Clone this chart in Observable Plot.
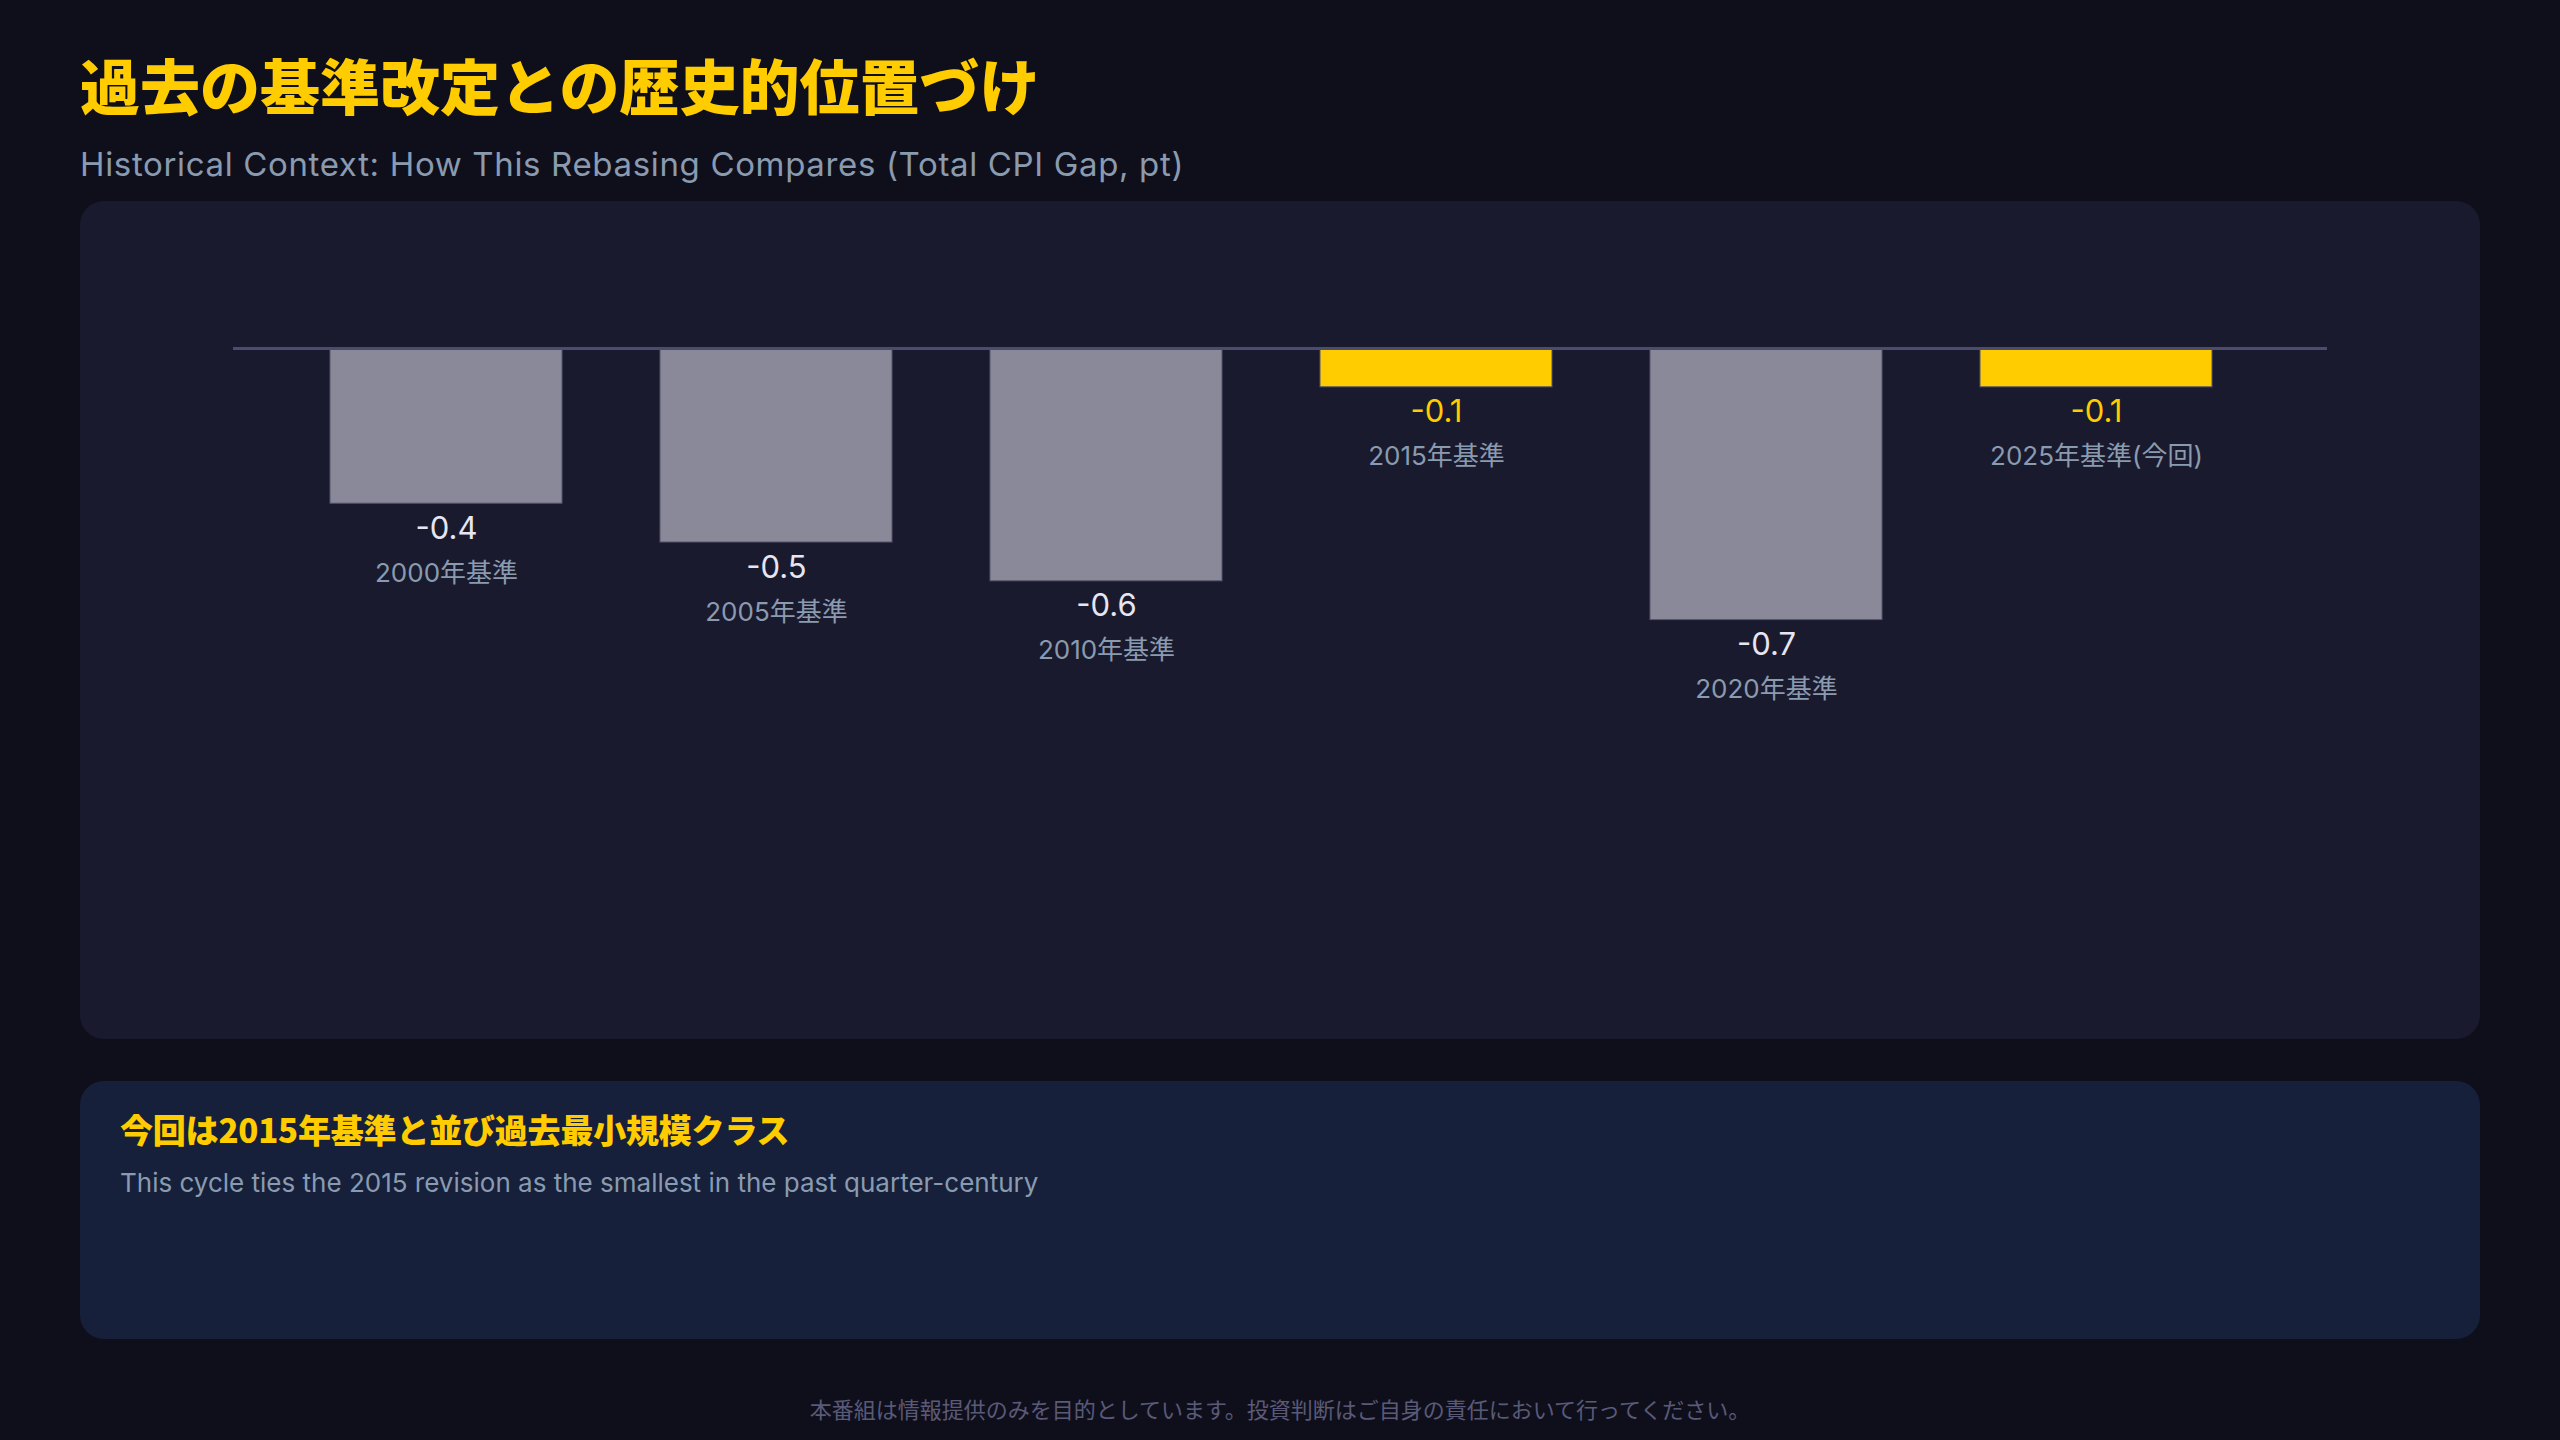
<!DOCTYPE html>
<html lang="ja">
<head>
<meta charset="utf-8">
<script src="https://cdn.jsdelivr.net/npm/d3@7"></script>
<script src="https://cdn.jsdelivr.net/npm/@observablehq/plot@0.6"></script>
<style>
  html, body { margin: 0; padding: 0; }
  body { width: 2560px; height: 1440px; background: #0f0f1c; position: relative; overflow: hidden;
         font-family: Inter, "Noto Sans CJK JP", sans-serif; }
  #title { position: absolute; left: 80px; top: 54px; margin: 0; font-size: 60px; line-height: 1; font-weight: 900;
           color: #FFCC00; font-family: "Noto Sans CJK JP", sans-serif; }
  #subtitle { position: absolute; left: 80px; top: 148px; font-size: 33px; line-height: 1; color: #8a9bb0; letter-spacing: 0.65px; }
  #panel { position: absolute; left: 80px; top: 201px; width: 2400px; height: 838px; border-radius: 24px; background: #1a1a2e; overflow: hidden; }
  #callout { position: absolute; left: 80px; top: 1081px; width: 2400px; height: 258px; border-radius: 24px; background: #16203a; }
  #callout-title { position: absolute; left: 40px; top: 32px; font-size: 33px; line-height: 1; font-weight: 900; color: #FFCC00;
                   font-family: "Noto Sans CJK JP", sans-serif; letter-spacing: -0.2px; }
  #callout-text { position: absolute; left: 40px; top: 89px; font-size: 26px; line-height: 1; color: #8a9bb0; }
  #footer { position: absolute; left: 0; width: 2560px; top: 1397px; text-align: center; font-size: 22px; line-height: 1;
            color: #5a5a78; font-family: "Noto Sans CJK JP", sans-serif; }
</style>
</head>
<body>
<h1 id="title">過去の基準改定との歴史的位置づけ</h1>
<div id="subtitle">Historical Context: How This Rebasing Compares (Total CPI Gap, pt)</div>
<div id="panel"></div>
<div id="callout">
  <div id="callout-title">今回は2015年基準と並び過去最小規模クラス</div>
  <div id="callout-text">This cycle ties the 2015 revision as the smallest in the past quarter-century</div>
</div>
<div id="footer">本番組は情報提供のみを目的としています。投資判断はご自身の責任において行ってください。</div>
<script>
const categories = ["2000年基準", "2005年基準", "2010年基準", "2015年基準", "2020年基準", "2025年基準(今回)"];
const gaps = [-0.4, -0.5, -0.6, -0.1, -0.7, -0.1];
const highlighted = [false, false, false, true, false, true];

const data = categories.map((c, i) => ({category: c, gap: gaps[i], hl: highlighted[i]}));

const barColor = d => d.hl ? "#FFCC00" : "#8a8999";
const valueColor = d => d.hl ? "#FFCC00" : "#e6e6f2";

const chart = Plot.plot({
  width: 2400,
  height: 838,
  marginLeft: 153,
  marginRight: 153,
  marginTop: 147,
  marginBottom: 109,
  style: {background: "transparent", fontFamily: "Inter, 'Noto Sans CJK JP', sans-serif"},
  x: {domain: categories, paddingInner: 0.296, paddingOuter: 0.32, align: 0.46, axis: null},
  y: {domain: [-1.5, 0], axis: null},
  marks: [
    Plot.barY(data, {x: "category", y: "gap", fill: barColor, stroke: "#55556e", strokeWidth: 1}),
    Plot.ruleY([0], {stroke: "#4c4c6e", strokeWidth: 3}),
    Plot.text(data, {x: "category", y: "gap", text: d => d.gap.toFixed(1), fill: valueColor,
      fontSize: 31, lineAnchor: "bottom", dy: 35, textAnchor: "middle"}),
    Plot.text(data, {x: "category", y: "gap", text: "category", fill: "#8a9bb0",
      fontSize: 26, lineAnchor: "bottom", dy: 78, textAnchor: "middle"})
  ]
});
document.getElementById("panel").appendChild(chart);
</script>
</body>
</html>
